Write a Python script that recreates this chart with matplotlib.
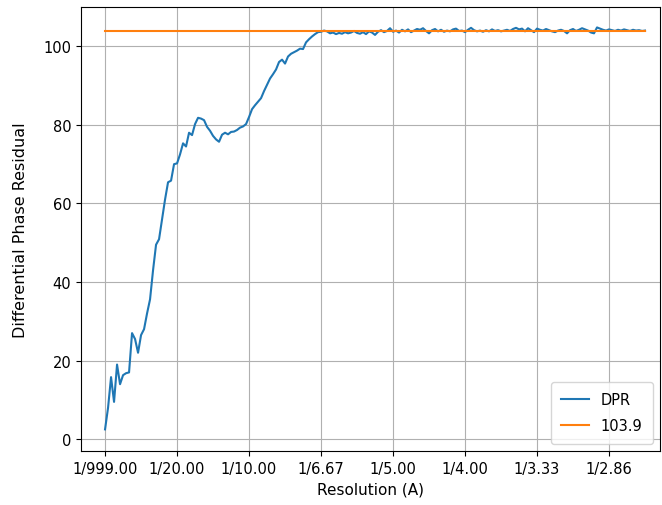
import numpy as np
import matplotlib
matplotlib.use("Agg")
import matplotlib.pyplot as plt
from matplotlib.ticker import FuncFormatter

# Differential phase residual vs spatial frequency
dpr = [
    2.5, 8.0, 15.8, 9.5, 19.0, 14.0, 16.3, 16.8, 17.0, 27.0,
    25.5, 22.0, 26.5, 28.0, 32.0, 35.6, 43.0, 49.5, 50.9, 56.0,
    61.0, 65.4, 65.8, 70.0, 70.2, 72.5, 75.3, 74.5, 78.0, 77.4,
    80.2, 81.8, 81.6, 81.2, 79.5, 78.5, 77.2, 76.3, 75.7, 77.5,
    78.0, 77.6, 78.2, 78.3, 78.7, 79.3, 79.6, 80.2, 82.0, 84.0,
    85.0, 85.9, 86.8, 88.6, 90.2, 91.8, 92.9, 94.1, 96.0, 96.6,
    95.6, 97.4, 98.1, 98.5, 98.9, 99.4, 99.3, 101.0, 101.8, 102.5,
    103.1, 103.6, 103.7, 104.0,
    103.8, 103.3, 103.5, 103.1, 103.4, 103.2, 103.6, 103.3, 103.5, 103.9,
    103.4, 103.2, 103.6, 103.1, 103.8, 103.5, 102.9, 103.7, 104.1, 103.6,
    103.9, 104.6, 103.7, 104.0, 103.5, 104.2, 103.8, 104.3, 103.6, 104.0,
    104.4, 104.2, 104.6, 103.9, 103.3, 104.1, 104.4, 103.8, 104.2, 103.7,
    104.0, 103.8, 104.3, 104.5, 103.9, 104.0, 103.6, 104.2, 104.7, 104.1,
    103.8, 104.0, 103.7, 104.1, 103.8, 104.3, 103.9, 104.1, 103.8, 104.0,
    104.2, 103.9, 104.4, 104.7, 104.3, 104.5, 103.8, 104.6, 104.1, 103.6,
    104.5, 104.2, 104.0, 104.4, 104.1, 103.8, 103.6, 104.0, 104.2, 103.9,
    103.3, 104.1, 104.4, 103.9, 104.2, 104.6, 104.3, 104.0, 103.5, 103.3,
    104.8, 104.5, 104.2, 104.0, 104.3, 104.1, 103.9, 104.2, 104.0, 104.3,
    104.1, 103.9, 104.2, 104.0, 104.1, 103.9, 104.0,
]
seuil = 103.9  # valeur de coupure affichee en legende
freq_max = 0.375
ticks = [0.0, 0.05, 0.10, 0.15, 0.20, 0.25, 0.30, 0.35]

freq = np.linspace(0, freq_max, len(dpr))


def resolution(x, pos):
    """ Affiche la frequence sous forme 1/resolution """
    if abs(x) < 1e-9:
        return "1/999.00"
    return "1/%.2f" % (1 / x)


fig = plt.figure(figsize=(6.62, 5.06), dpi=100)
ax = fig.add_axes([81 / 662, 54 / 506, 579 / 662, 444 / 506])

ax.plot(freq, dpr, label="DPR")
ax.plot(freq, [seuil] * len(freq), label=str(seuil))

ax.set_xticks(ticks)
ax.xaxis.set_major_formatter(FuncFormatter(resolution))
ax.set_xlim(-0.0167, 0.3854)
ax.set_ylim(-3, 110)
ax.tick_params(labelsize=10.5)
ax.set_xlabel("Resolution (A)", fontsize=11)
ax.set_ylabel("Differential Phase Residual", fontsize=11.5, labelpad=11)
ax.grid(True)
ax.legend(loc="lower right", fontsize=10.5, labelspacing=0.8,
          borderpad=0.7, handlelength=1.9)

fig.savefig("out.png")
plt.close(fig)
